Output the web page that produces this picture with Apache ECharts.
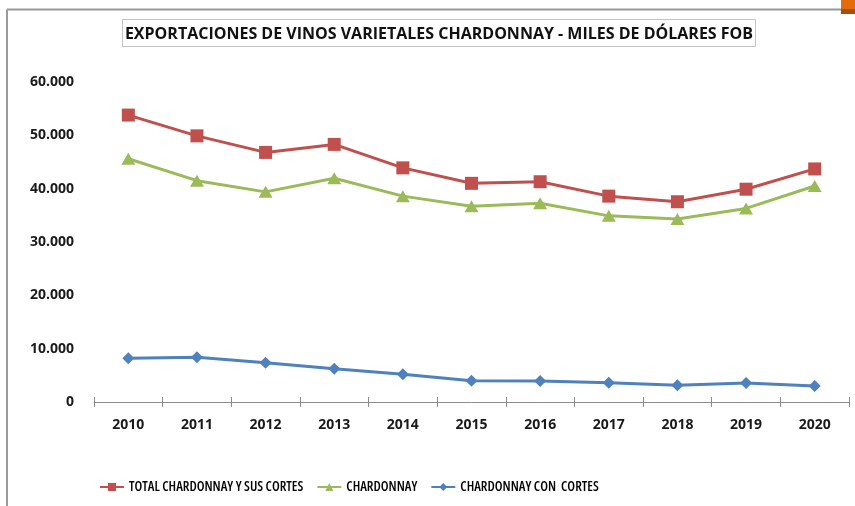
<!DOCTYPE html>
<html>
<head>
<meta charset="utf-8">
<script src="https://cdn.jsdelivr.net/npm/echarts@6/dist/echarts.min.js"></script>
<style>html,body{margin:0;padding:0;background:#fff}#c{width:855px;height:506px}</style>
</head>
<body>
<div id="c"></div>
<script>
const titleText = 'EXPORTACIONES DE VINOS VARIETALES CHARDONNAY - MILES DE DÓLARES FOB';
const years = ['2010','2011','2012','2013','2014','2015','2016','2017','2018','2019','2020'];
const seriesNames = ['TOTAL CHARDONNAY Y SUS CORTES', 'CHARDONNAY', 'CHARDONNAY CON  CORTES'];
const totalChardonnay = [53800, 49900, 46800, 48300, 43900, 41000, 41300, 38600, 37550, 39900, 43700];
const chardonnay = [45600, 41500, 39400, 41950, 38600, 36700, 37250, 34900, 34300, 36300, 40500];
const chardonnayCortes = [8200, 8380, 7370, 6250, 5200, 4000, 3950, 3620, 3130, 3560, 3000];
const yTicks = [0, 10000, 20000, 30000, 40000, 50000, 60000];

const colors = ['#C0504D', '#9BBB59', '#4F81BD'];
const symbols = ['rect', 'triangle', 'diamond'];
const symbolSizes = [[13, 13], [14, 12], [12, 12]];
const datasets = [totalChardonnay, chardonnay, chardonnayCortes];

function fmt(v) {
  if (v === 0) return '0';
  return String(v).replace(/\B(?=(\d{3})+(?!\d))/g, '.');
}

const chart = echarts.init(document.getElementById('c'), null, {renderer: 'canvas'});
const axisFont = {fontFamily: 'Open Sans', fontWeight: 'bold', fontSize: 14, color: '#1a1a1a'};

chart.setOption({
  animation: false,
  backgroundColor: '#fff',
  title: {
    text: titleText,
    left: 439,
    top: 24.5,
    padding: 0,
    textAlign: 'center',
    textStyle: {fontFamily: 'Open Sans', fontWeight: 'bold', fontSize: 16, color: '#111', lineHeight: 19}
  },
  graphic: [
    {type: 'line', shape: {x1: 7, y1: 9.5, x2: 842, y2: 9.5}, style: {stroke: '#9a9a9a', lineWidth: 2}, z: 0},
    {type: 'line', shape: {x1: 7, y1: 9.5, x2: 7, y2: 506}, style: {stroke: '#9a9a9a', lineWidth: 2}, z: 0},
    {type: 'rect', shape: {x: 841, y: 0, width: 14, height: 9}, style: {fill: '#E46C0A'}, z: 0},
    {type: 'rect', shape: {x: 841, y: 9, width: 14, height: 5}, style: {fill: '#A5500F'}, z: 0},
    {type: 'rect', shape: {x: 122.5, y: 19.5, width: 633, height: 27}, style: {fill: '#fff', stroke: '#c4c4c4', lineWidth: 1}, z: 0}
  ],
  legend: {
    left: 99,
    top: 480,
    padding: 0,
    itemGap: 13,
    itemWidth: 24,
    itemHeight: 10,
    data: seriesNames,
    textStyle: {fontFamily: 'Open Sans', fontStyle: 'normal', fontWeight: '600 condensed', fontSize: 13.7, color: '#000'}
  },
  grid: {left: 94, top: 82, width: 755, height: 320, containLabel: false},
  xAxis: [
    {
      type: 'category',
      data: years,
      boundaryGap: true,
      axisLine: {lineStyle: {color: '#8c8c8c', width: 1}},
      axisTick: {show: true, length: 5, inside: false, alignWithLabel: false, lineStyle: {color: '#8c8c8c'}},
      axisLabel: Object.assign({margin: 16}, axisFont)
    },
    {
      type: 'category',
      data: years,
      boundaryGap: true,
      position: 'bottom',
      axisLine: {show: false},
      axisTick: {show: true, length: 5, inside: true, lineStyle: {color: '#8c8c8c'}},
      axisLabel: {show: false}
    }
  ],
  yAxis: {
    type: 'value',
    min: 0,
    max: 60000,
    interval: 10000,
    axisLine: {show: false},
    axisTick: {show: false},
    splitLine: {show: false},
    axisLabel: Object.assign({margin: 20, padding: [2, 0, 0, 0], formatter: function (v) { return yTicks.indexOf(v) >= 0 ? fmt(v) : ''; }}, axisFont)
  },
  series: seriesNames.map(function (name, i) {
    return {
      name: name,
      type: 'line',
      data: datasets[i],
      xAxisIndex: 0,
      symbol: symbols[i],
      symbolSize: symbolSizes[i],
      showAllSymbol: true,
      itemStyle: {color: colors[i]},
      lineStyle: {color: colors[i], width: 3},
      z: 3 - i
    };
  })
});
</script>
</body>
</html>
